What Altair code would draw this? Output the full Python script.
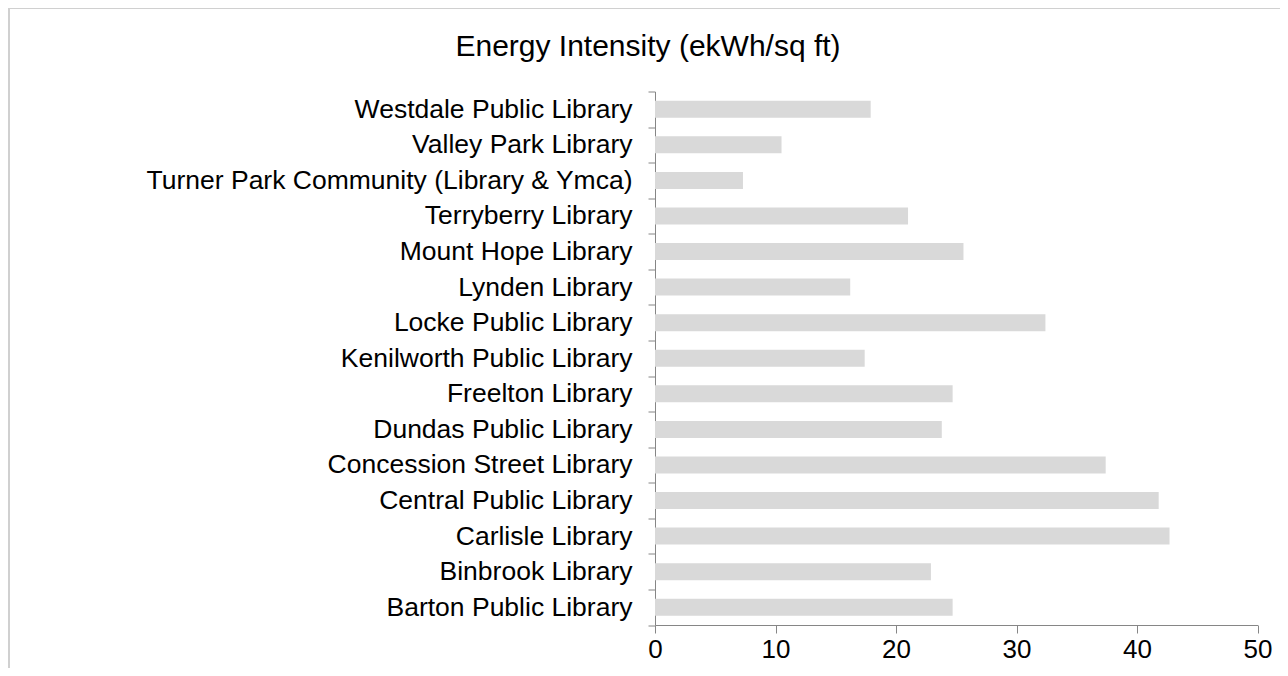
import altair as alt
import pandas as pd

libraries = [
    "Westdale Public Library",
    "Valley Park Library",
    "Turner Park Community (Library & Ymca)",
    "Terryberry Library",
    "Mount Hope Library",
    "Lynden Library",
    "Locke Public Library",
    "Kenilworth Public Library",
    "Freelton Library",
    "Dundas Public Library",
    "Concession Street Library",
    "Central Public Library",
    "Carlisle Library",
    "Binbrook Library",
    "Barton Public Library",
]
intensity = [17.9, 10.5, 7.3, 21.0, 25.6, 16.2, 32.4, 17.4, 24.7, 23.8, 37.4, 41.8, 42.7, 22.9, 24.7]
x_ticks = [0, 10, 20, 30, 40, 50]
title_text = "Energy Intensity (ekWh/sq ft)"

df = pd.DataFrame({"library": libraries, "value": intensity})

FONT = "Liberation Sans"
AX = "#868686"
W, H = 602.5, 533.5
PL, PT = 647, 83.5

bars = alt.Chart(df).mark_bar(color="#d9d9d9", size=17).encode(
    x=alt.X("value:Q", scale=alt.Scale(domain=[0, 50], nice=False),
            axis=alt.Axis(values=x_ticks, title=None, grid=False, labelFontSize=26,
                          labelFont=FONT, labelColor="#000000", domainColor=AX, tickColor=AX,
                          tickSize=8, labelPadding=3, labelFlush=False)),
    y=alt.Y("library:N", sort=libraries,
            scale=alt.Scale(paddingInner=0, paddingOuter=0),
            axis=alt.Axis(title=None, labelFontSize=26.5, labelFont=FONT, labelColor="#000000",
                          domainColor=AX, tickColor=AX, tickSize=7, tickBand="extent",
                          labelPadding=16, labelLimit=0)),
)

border = alt.Chart(pd.DataFrame({"b": [0]})).mark_rect(
    fill="white", fillOpacity=0, stroke="#d0d0d0", strokeWidth=2
).encode(
    x=alt.value(9 - 655), x2=alt.value(W + 100),
    y=alt.value(8 - 91.5), y2=alt.value(H + 200),
)

title = alt.Chart(pd.DataFrame({"t": [title_text]})).mark_text(
    font=FONT, fontSize=30, color="#000000", align="center", baseline="alphabetic"
).encode(
    text="t:N", x=alt.value(648 - 655), y=alt.value(56 - 91.5),
)

chart = alt.layer(border, bars, title).properties(
    width=W, height=H,
    autosize=alt.AutoSizeParams(type="none"),
    padding={"left": PL, "top": PT, "right": 1272 - PL - W, "bottom": 660 - PT - H},
).configure(background="white").configure_view(stroke=None)

chart.save("out.html", embed_options={"renderer": "svg", "actions": False})
